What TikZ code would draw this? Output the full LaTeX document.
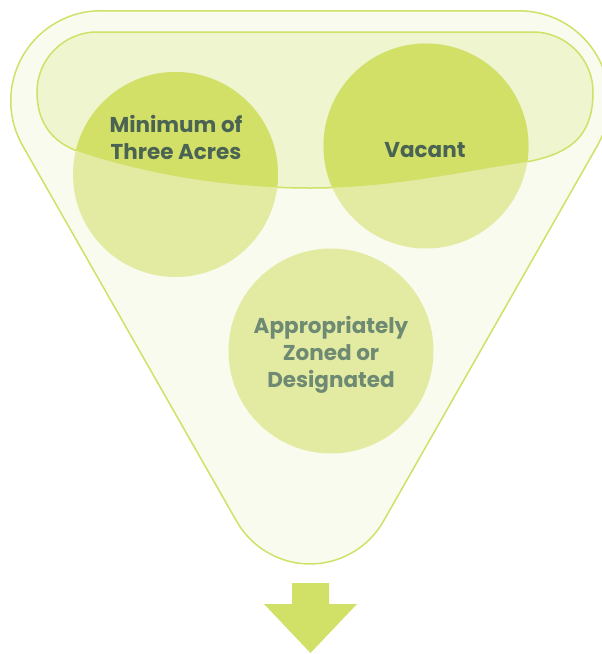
\documentclass[tikz,border=0pt]{standalone}
\usepackage{fontspec}
\setmainfont{Poppins}
\definecolor{limeline}{HTML}{D1E067}
\definecolor{funnelfill}{HTML}{F9FBEE}
\definecolor{bandfill}{HTML}{EFF5CF}
\definecolor{circlight}{HTML}{E3EBA3}
\definecolor{circdark}{HTML}{D2E068}
\definecolor{txtdark}{HTML}{4B6352}
\definecolor{txtlight}{HTML}{6E8A72}
\tikzset{
  funnel/.style={draw=limeline, line width=1.5pt, fill=funnelfill},
  bandshape/.style={draw=limeline, line width=1.5pt, fill=bandfill},
  circnode/.style={circle, minimum size=205pt, inner sep=0pt, fill=circlight},
  label/.style={font=\bfseries\fontsize{21.5}{27}\selectfont, align=center, inner sep=0pt},
}
\def\bandpath{(97,32) -- (533,32) .. controls (566,32) and (593,59) .. (593,92) .. controls (593,135) and (572,155) .. (520,163) .. controls (452,173.4) and (390,188) .. (310,188) .. controls (220,188) and (140,172) .. (80,152) .. controls (50,142) and (37,120) .. (37,92) .. controls (37,59) and (64,32) .. (97,32) -- cycle}
\begin{document}
\begin{tikzpicture}[x=1pt,y=1pt,yscale=-1]
\useasboundingbox (0,0) rectangle (602,654);
\clip (0,0) rectangle (602,654);
% funnel
\draw[funnel] (101,10.8) -- (519,10.8) arc[start angle=270, end angle=389.7, radius=90.2]
  -- (383.4,521.3) arc[start angle=29.7, end angle=150.3, radius=84.5]
  -- (22.6,145.6) arc[start angle=150.3, end angle=270, radius=90.2] -- cycle;
% band
\draw[bandshape] \bandpath;
% circles
\node[circnode] (c1) at (175.5,174.5) {};
\node[circnode] (c2) at (426,146) {};
\node[circnode] (c3) at (331,351) {};
\begin{scope}
  \clip \bandpath;
  \fill[circdark] (c1.center) circle[radius=102.5];
  \fill[circdark] (c2.center) circle[radius=102.5];
\end{scope}
% labels
\node[label, text=txtdark] (t1) at (176,137) {Minimum of\\Three Acres};
\node[label, text=txtdark] (t2) at (425,150) {Vacant};
\node[label, text=txtlight] (t3) at (331,355) {Appropriately\\Zoned or\\Designated};
% arrow
\fill[limeline] (292,583) -- (329,583) -- (329,604) -- (357,604) -- (310.5,653) -- (264,604) -- (292,604) -- cycle;
\end{tikzpicture}
\end{document}
